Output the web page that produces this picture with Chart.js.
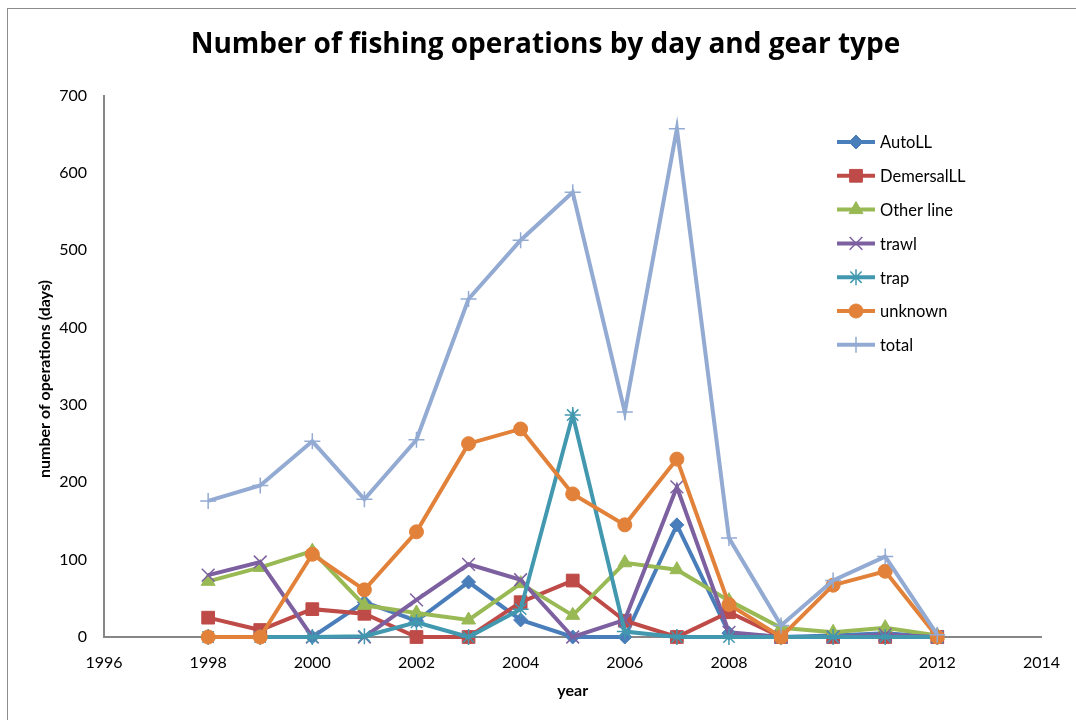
<!DOCTYPE html>
<html>
<head>
<meta charset="utf-8">
<script src="https://cdn.jsdelivr.net/npm/chart.js@4/dist/chart.umd.min.js"></script>
<style>
  html, body { margin: 0; padding: 0; background: #ffffff; }
  #wrap { width: 1076px; height: 720px; }
</style>
</head>
<body>
<div id="wrap"><canvas id="c" width="1076" height="720"></canvas></div>
<script>
// ---- data ----
const years      = [1998, 1999, 2000, 2001, 2002, 2003, 2004, 2005, 2006, 2007, 2008, 2009, 2010, 2011, 2012];
const autoLL     = [0, 0, 0, 45, 21, 71, 22, 0, 0, 145, 5, 0, 2, 5, 0];
const demersalLL = [25, 9, 36, 30, 0, 0, 45, 73, 21, 0, 32, 0, 0, 0, 0];
const otherLine  = [72, 90, 111, 41, 31, 22, 69, 28, 96, 87, 47, 12, 6, 12, 2];
const trawl      = [80, 97, 0, 0, 48, 94, 74, 0, 22, 194, 6, 0, 0, 3, 0];
const trap       = [0, 0, 0, 1, 19, 0, 36, 287, 7, 0, 0, 0, 0, 0, 0];
const unknown    = [0, 0, 107, 61, 136, 250, 269, 185, 145, 230, 42, 0, 67, 85, 0];
const total      = [176, 196, 253, 178, 255, 437, 513, 575, 291, 657, 128, 15, 73, 104, 3];
const seriesNames = ['AutoLL', 'DemersalLL', 'Other line', 'trawl', 'trap', 'unknown', 'total'];
const yTicks = [0, 100, 200, 300, 400, 500, 600, 700];
const xTicks = [1996, 1998, 2000, 2002, 2004, 2006, 2008, 2010, 2012, 2014];
const chartTitle = 'Number of fishing operations by day and gear type';
const xTitle = 'year';
const yTitle = 'number of operations (days)';

const FONT = "Lato, 'Open Sans', 'DejaVu Sans', sans-serif";
const TITLE_FONT = "'Open Sans', Lato, 'DejaVu Sans', sans-serif";

const seriesValues = [autoLL, demersalLL, otherLine, trawl, trap, unknown, total];
const styles = [
  { color: '#4A7EBB', point: 'rectRot',  r: 7, bw: 1 },
  { color: '#BE4B48', point: 'rect',     r: 9, bw: 1 },
  { color: '#98B954', point: 'triangle', r: 8, bw: 1 },
  { color: '#7D60A0', point: 'crossRot', r: 9, bw: 1.5 },
  { color: '#4198AF', point: 'star',     r: 8, bw: 1.5 },
  { color: '#E2823A', point: 'circle',   r: 7, bw: 1 },
  { color: '#93ABD3', point: 'cross',    r: 8, bw: 1.5 }
];

const datasets = seriesNames.map((name, i) => ({
  label: name,
  data: years.map((yr, k) => ({ x: yr, y: seriesValues[i][k] })),
  borderColor: styles[i].color,
  backgroundColor: styles[i].color,
  pointBackgroundColor: styles[i].color,
  pointBorderColor: styles[i].color,
  pointStyle: styles[i].point,
  pointRadius: styles[i].r,
  pointBorderWidth: styles[i].bw,
  borderWidth: 4,
  tension: 0,
  clip: false,
  order: seriesNames.length - i
}));

const bgPlugin = {
  id: 'bg',
  beforeDraw(chart) {
    const ctx = chart.ctx;
    ctx.save();
    ctx.fillStyle = '#ffffff';
    ctx.fillRect(0, 0, chart.width, chart.height);
    ctx.strokeStyle = '#8c8c8c';
    ctx.lineWidth = 1;
    ctx.strokeRect(7.5, 8.5, chart.width + 20, chart.height + 20);
    ctx.restore();
  },
  afterDraw(chart) {
    // vertical axis title, centred like the reference
    const ctx = chart.ctx;
    ctx.save();
    ctx.translate(45, 379);
    ctx.rotate(-Math.PI / 2);
    ctx.fillStyle = '#000000';
    ctx.font = 'bold 16px ' + FONT;
    ctx.textAlign = 'center';
    ctx.textBaseline = 'middle';
    ctx.fillText(yTitle, 0, 0);
    ctx.restore();
  }
};

const legendPlugin = {
  id: 'insideLegend',
  afterDraw(chart) {
    const ctx = chart.ctx;
    const x0 = 837, x1 = 875, tx = 880, y0 = 142, dy = 33.8;
    ctx.save();
    chart.data.datasets.forEach((ds, i) => {
      const y = y0 + i * dy;
      ctx.strokeStyle = ds.borderColor;
      ctx.lineWidth = 4;
      ctx.beginPath();
      ctx.moveTo(x0, y);
      ctx.lineTo(x1, y);
      ctx.stroke();
      if (Chart.helpers && Chart.helpers.drawPoint) {
        ctx.fillStyle = ds.pointBackgroundColor;
        ctx.strokeStyle = ds.pointBorderColor;
        ctx.lineWidth = ds.pointBorderWidth;
        Chart.helpers.drawPoint(ctx, { pointStyle: ds.pointStyle, radius: ds.pointRadius, rotation: 0, borderWidth: ds.pointBorderWidth }, (x0 + x1) / 2, y);
      }
      ctx.fillStyle = '#000000';
      ctx.font = '16.5px ' + FONT;
      ctx.textAlign = 'left';
      ctx.textBaseline = 'middle';
      ctx.fillText(ds.label, tx, y + 1);
    });
    ctx.restore();
  }
};

new Chart(document.getElementById('c'), {
  type: 'line',
  data: { datasets },
  plugins: [bgPlugin, legendPlugin],
  options: {
    responsive: false,
    animation: false,
    layout: { padding: { left: 47, top: 10, right: 32, bottom: 20 } },
    plugins: {
      legend: { display: false },
      tooltip: { enabled: false },
      title: {
        display: true,
        text: chartTitle,
        color: '#000000',
        font: { family: TITLE_FONT, size: 28, weight: 'bold', lineHeight: 1.2 },
        padding: { top: 18, bottom: 34 }
      }
    },
    scales: {
      x: {
        type: 'linear',
        min: 1996,
        max: 2014,
        afterFit(scale) { scale.height = 63; },
        afterBuildTicks(scale) { scale.ticks = xTicks.map(v => ({ value: v })); },
        grid: { display: false, drawTicks: false },
        border: { display: true, color: '#868686', width: 2 },
        ticks: {
          color: '#000000',
          font: { family: FONT, size: 16 },
          padding: 16,
          maxRotation: 0,
          autoSkip: false,
          callback: (v) => String(v)
        },
        title: {
          display: true,
          text: xTitle,
          color: '#000000',
          font: { family: FONT, size: 16, weight: 'bold' },
          padding: { top: 0, bottom: 0 }
        }
      },
      y: {
        type: 'linear',
        min: 0,
        max: 700,
        afterFit(scale) { scale.width = 57; },
        afterBuildTicks(scale) { scale.ticks = yTicks.map(v => ({ value: v })); },
        grid: { display: false, drawTicks: false },
        border: { display: true, color: '#868686', width: 2 },
        ticks: {
          color: '#000000',
          font: { family: FONT, size: 16 },
          padding: 17,
          callback: (v) => String(v)
        },
        title: { display: false, text: yTitle }
      }
    }
  }
});
</script>
</body>
</html>
